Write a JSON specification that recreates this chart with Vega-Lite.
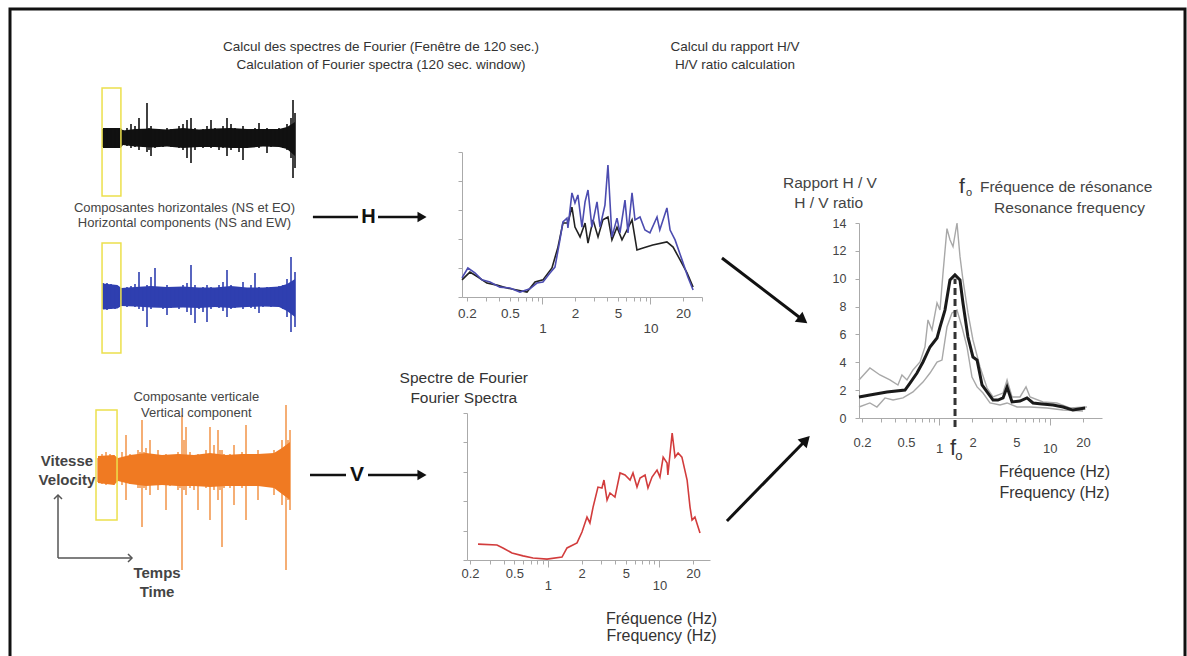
{
  "$schema": "https://vega.github.io/schema/vega-lite/v6.json",
  "width": 1175,
  "height": 660,
  "autosize": {"type": "none"},
  "padding": {"left": 10, "top": 9, "right": 2, "bottom": -13},
  "background": "#ffffff",
  "config": {
    "view": {"stroke": "#111111", "strokeWidth": 3},
    "font": "Liberation Sans",
    "axis": {"grid": false, "labelFont": "Liberation Sans", "labelColor": "#444444", "domainColor": "#aaaaaa", "tickColor": "#aaaaaa", "labelFlush": false, "labelOverlap": false, "tickSize": 4, "titleFont": "Liberation Sans"},
    "text": {"font": "Liberation Sans", "color": "#333333"}
  },
  "resolve": {
    "scale": {"x": "independent", "y": "independent", "color": "independent"},
    "axis": {"x": "independent", "y": "independent"}
  },
  "datasets": {
    "black": [
      {"t":0,"hi":0.9,"lo":-0.9},{"t":25,"hi":1.0,"lo":-1.0},{"t":50,"hi":0.9,"lo":-0.9},{"t":75,"hi":1.0,"lo":-1.0},{"t":100,"hi":0.9,"lo":-0.9},
      {"t":125,"hi":0.8,"lo":-0.7},{"t":150,"hi":1.0,"lo":-0.8},{"t":175,"hi":1.4,"lo":-1.0},{"t":200,"hi":1.2,"lo":-0.9},{"t":225,"hi":2.0,"lo":-1.2},
      {"t":250,"hi":0.9,"lo":-0.8},{"t":262.5,"hi":0.9,"lo":-0.9},{"t":275,"hi":3.5,"lo":-1.4},{"t":287.5,"hi":1.0,"lo":-1.2},{"t":300,"hi":1.2,"lo":-1.8},
      {"t":325,"hi":0.8,"lo":-1.0},{"t":350,"hi":0.9,"lo":-0.8},{"t":375,"hi":0.8,"lo":-0.9},{"t":400,"hi":1.0,"lo":-0.8},{"t":425,"hi":0.9,"lo":-0.9},
      {"t":450,"hi":0.8,"lo":-0.8},{"t":475,"hi":1.2,"lo":-1.0},{"t":500,"hi":1.4,"lo":-1.2},{"t":525,"hi":1.8,"lo":-2.0},{"t":550,"hi":2.0,"lo":-2.5},
      {"t":575,"hi":1.0,"lo":-1.2},{"t":600,"hi":0.8,"lo":-0.9},{"t":625,"hi":0.9,"lo":-1.0},{"t":650,"hi":1.2,"lo":-0.8},{"t":675,"hi":1.8,"lo":-1.0},
      {"t":700,"hi":1.0,"lo":-0.9},{"t":725,"hi":0.9,"lo":-1.2},{"t":750,"hi":1.2,"lo":-1.0},{"t":775,"hi":2.0,"lo":-1.8},{"t":800,"hi":1.4,"lo":-1.2},
      {"t":825,"hi":1.0,"lo":-1.0},{"t":850,"hi":0.9,"lo":-1.4},{"t":875,"hi":1.2,"lo":-2.2},{"t":900,"hi":0.9,"lo":-1.0},{"t":925,"hi":0.8,"lo":-0.9},
      {"t":950,"hi":1.0,"lo":-0.9},{"t":975,"hi":1.5,"lo":-1.0},{"t":1000,"hi":0.9,"lo":-0.8},{"t":1025,"hi":1.0,"lo":-1.5},{"t":1050,"hi":0.8,"lo":-0.9},
      {"t":1075,"hi":0.9,"lo":-0.8},{"t":1100,"hi":1.0,"lo":-0.9},{"t":1125,"hi":0.9,"lo":-1.0},{"t":1150,"hi":1.4,"lo":-1.2},{"t":1175,"hi":2.0,"lo":-2.0},
      {"t":1187.5,"hi":3.8,"lo":-4.0},{"t":1200,"hi":2.5,"lo":-3.0}
    ],
    "blackBand": [
      {"t":0,"hi":1.0,"lo":-1.0},{"t":110,"hi":1.0,"lo":-1.0},{"t":125,"hi":0.75,"lo":-0.7},{"t":200,"hi":0.9,"lo":-0.85},{"t":300,"hi":0.95,"lo":-0.95},
      {"t":400,"hi":0.85,"lo":-0.85},{"t":500,"hi":1.0,"lo":-1.0},{"t":600,"hi":0.85,"lo":-0.9},{"t":700,"hi":0.95,"lo":-0.9},{"t":800,"hi":1.0,"lo":-1.0},
      {"t":900,"hi":0.9,"lo":-1.0},{"t":1000,"hi":0.9,"lo":-0.85},{"t":1100,"hi":0.9,"lo":-0.9},{"t":1150,"hi":1.1,"lo":-1.1},{"t":1200,"hi":1.6,"lo":-1.8}
    ],
    "blue": [
      {"t":0,"hi":1.4,"lo":-1.2},{"t":25,"hi":1.4,"lo":-1.3},{"t":50,"hi":1.3,"lo":-1.2},{"t":75,"hi":1.2,"lo":-1.2},{"t":100,"hi":0.9,"lo":-1.0},
      {"t":125,"hi":0.9,"lo":-0.8},{"t":150,"hi":1.0,"lo":-1.0},{"t":175,"hi":1.1,"lo":-0.9},{"t":200,"hi":1.3,"lo":-1.0},{"t":225,"hi":2.5,"lo":-1.2},
      {"t":250,"hi":1.0,"lo":-1.4},{"t":275,"hi":1.2,"lo":-3.0},{"t":300,"hi":2.0,"lo":-1.2},{"t":325,"hi":2.9,"lo":-1.0},{"t":350,"hi":1.0,"lo":-1.0},
      {"t":375,"hi":0.9,"lo":-1.2},{"t":400,"hi":1.2,"lo":-1.8},{"t":425,"hi":1.0,"lo":-1.1},{"t":450,"hi":0.9,"lo":-1.0},{"t":475,"hi":1.0,"lo":-1.2},
      {"t":500,"hi":1.2,"lo":-1.0},{"t":525,"hi":1.4,"lo":-1.5},{"t":550,"hi":3.2,"lo":-1.8},{"t":575,"hi":1.2,"lo":-2.6},{"t":600,"hi":0.9,"lo":-1.2},
      {"t":625,"hi":1.0,"lo":-1.5},{"t":650,"hi":1.2,"lo":-2.5},{"t":675,"hi":1.0,"lo":-1.2},{"t":700,"hi":0.9,"lo":-1.0},{"t":725,"hi":1.2,"lo":-1.1},
      {"t":750,"hi":1.5,"lo":-1.4},{"t":775,"hi":2.7,"lo":-2.0},{"t":800,"hi":1.2,"lo":-1.2},{"t":825,"hi":0.9,"lo":-1.1},{"t":850,"hi":1.0,"lo":-1.0},
      {"t":875,"hi":1.5,"lo":-1.2},{"t":900,"hi":0.9,"lo":-1.0},{"t":925,"hi":1.2,"lo":-1.1},{"t":950,"hi":2.4,"lo":-1.2},{"t":975,"hi":1.0,"lo":-1.6},
      {"t":1000,"hi":0.9,"lo":-1.0},{"t":1025,"hi":1.0,"lo":-0.9},{"t":1050,"hi":0.9,"lo":-1.0},{"t":1075,"hi":1.0,"lo":-0.9},{"t":1100,"hi":1.1,"lo":-1.0},
      {"t":1125,"hi":1.2,"lo":-1.2},{"t":1150,"hi":1.8,"lo":-2.0},{"t":1175,"hi":4.0,"lo":-3.5},{"t":1200,"hi":2.5,"lo":-3.0}
    ],
    "blueBand": [
      {"t":0,"hi":1.35,"lo":-1.25},{"t":90,"hi":1.2,"lo":-1.15},{"t":115,"hi":0.9,"lo":-0.9},{"t":200,"hi":1.0,"lo":-0.95},{"t":300,"hi":1.1,"lo":-1.05},
      {"t":400,"hi":1.0,"lo":-1.1},{"t":500,"hi":1.05,"lo":-1.05},{"t":600,"hi":0.95,"lo":-1.1},{"t":700,"hi":0.95,"lo":-1.0},{"t":800,"hi":1.1,"lo":-1.1},
      {"t":900,"hi":0.95,"lo":-1.0},{"t":1000,"hi":0.95,"lo":-0.95},{"t":1100,"hi":1.05,"lo":-1.0},{"t":1150,"hi":1.3,"lo":-1.4},{"t":1200,"hi":1.8,"lo":-2.0}
    ],
    "orange": [
      {"t":0,"hi":1.2,"lo":-1.2},{"t":25,"hi":1.6,"lo":-1.4},{"t":50,"hi":1.8,"lo":-1.5},{"t":75,"hi":1.6,"lo":-1.4},{"t":100,"hi":1.5,"lo":-1.5},
      {"t":125,"hi":1.2,"lo":-1.0},{"t":150,"hi":1.8,"lo":-1.5},{"t":175,"hi":3.5,"lo":-3.0},{"t":200,"hi":1.6,"lo":-1.4},{"t":225,"hi":1.5,"lo":-1.4},
      {"t":250,"hi":2.0,"lo":-1.8},{"t":262.5,"hi":1.8,"lo":-1.8},{"t":275,"hi":5.0,"lo":-5.7},{"t":287.5,"hi":1.8,"lo":-1.8},{"t":300,"hi":2.2,"lo":-2.0},
      {"t":325,"hi":3.0,"lo":-2.5},{"t":350,"hi":1.5,"lo":-1.4},{"t":375,"hi":2.0,"lo":-2.0},{"t":400,"hi":1.4,"lo":-1.5},{"t":425,"hi":1.6,"lo":-4.0},
      {"t":450,"hi":1.5,"lo":-1.6},{"t":475,"hi":1.4,"lo":-1.5},{"t":500,"hi":1.8,"lo":-2.0},{"t":512.5,"hi":1.6,"lo":-1.8},{"t":525,"hi":5.5,"lo":-10.0},
      {"t":537.5,"hi":3.0,"lo":-2.0},{"t":550,"hi":4.3,"lo":-2.5},{"t":575,"hi":1.8,"lo":-1.8},{"t":600,"hi":1.5,"lo":-2.0},{"t":625,"hi":1.6,"lo":-4.0},
      {"t":650,"hi":1.5,"lo":-1.5},{"t":675,"hi":2.0,"lo":-1.8},{"t":700,"hi":4.3,"lo":-5.0},{"t":725,"hi":2.5,"lo":-2.0},{"t":750,"hi":4.0,"lo":-3.0},
      {"t":762.5,"hi":2.0,"lo":-2.0},{"t":775,"hi":2.0,"lo":-7.7},{"t":787.5,"hi":1.6,"lo":-1.8},{"t":800,"hi":1.5,"lo":-1.6},{"t":825,"hi":1.6,"lo":-1.8},
      {"t":850,"hi":2.5,"lo":-3.5},{"t":875,"hi":1.5,"lo":-1.6},{"t":900,"hi":1.8,"lo":-1.8},{"t":925,"hi":4.5,"lo":-5.0},{"t":950,"hi":1.6,"lo":-1.5},
      {"t":975,"hi":1.5,"lo":-1.6},{"t":1000,"hi":2.0,"lo":-3.0},{"t":1025,"hi":1.4,"lo":-1.5},{"t":1050,"hi":1.5,"lo":-1.4},{"t":1075,"hi":1.6,"lo":-1.6},
      {"t":1100,"hi":2.0,"lo":-2.5},{"t":1125,"hi":1.8,"lo":-2.0},{"t":1150,"hi":3.0,"lo":-3.5},{"t":1162.5,"hi":2.0,"lo":-2.5},{"t":1175,"hi":6.5,"lo":-10.0},
      {"t":1187.5,"hi":3.0,"lo":-3.0},{"t":1200,"hi":4.0,"lo":-4.0}
    ],
    "orangeBand": [
      {"t":0,"hi":1.4,"lo":-1.3},{"t":100,"hi":1.5,"lo":-1.5},{"t":125,"hi":1.2,"lo":-1.1},{"t":200,"hi":1.5,"lo":-1.4},{"t":300,"hi":1.7,"lo":-1.6},
      {"t":400,"hi":1.5,"lo":-1.5},{"t":500,"hi":1.6,"lo":-1.6},{"t":600,"hi":1.5,"lo":-1.6},{"t":700,"hi":1.7,"lo":-1.7},{"t":800,"hi":1.5,"lo":-1.6},
      {"t":900,"hi":1.6,"lo":-1.6},{"t":1000,"hi":1.6,"lo":-1.6},{"t":1100,"hi":1.7,"lo":-1.8},{"t":1150,"hi":2.2,"lo":-2.4},{"t":1200,"hi":2.8,"lo":-3.0}
    ],
    "hspec": [
      {"freq":0.18,"amp":0.59,"comp":"NS"},{"freq":0.213,"amp":0.86,"comp":"NS"},{"freq":0.253,"amp":0.69,"comp":"NS"},{"freq":0.306,"amp":0.48,"comp":"NS"},
      {"freq":0.379,"amp":0.41,"comp":"NS"},{"freq":0.469,"amp":0.31,"comp":"NS"},{"freq":0.581,"amp":0.24,"comp":"NS"},{"freq":0.719,"amp":0.17,"comp":"NS"},
      {"freq":0.853,"amp":0.52,"comp":"NS"},{"freq":1.011,"amp":0.59,"comp":"NS"},{"freq":1.225,"amp":1.0,"comp":"NS"},{"freq":1.392,"amp":1.72,"comp":"NS"},
      {"freq":1.548,"amp":2.55,"comp":"NS"},{"freq":1.722,"amp":2.55,"comp":"NS"},{"freq":1.875,"amp":3.10,"comp":"NS"},{"freq":2.0,"amp":2.41,"comp":"NS"},
      {"freq":2.23,"amp":2.07,"comp":"NS"},{"freq":2.48,"amp":2.55,"comp":"NS"},{"freq":2.64,"amp":1.86,"comp":"NS"},{"freq":2.94,"amp":2.66,"comp":"NS"},
      {"freq":3.27,"amp":2.07,"comp":"NS"},{"freq":3.63,"amp":2.66,"comp":"NS"},{"freq":4.04,"amp":2.76,"comp":"NS"},{"freq":4.40,"amp":1.97,"comp":"NS"},
      {"freq":4.90,"amp":2.41,"comp":"NS"},{"freq":5.45,"amp":1.97,"comp":"NS"},{"freq":6.06,"amp":2.31,"comp":"NS"},{"freq":6.75,"amp":2.66,"comp":"NS"},
      {"freq":7.50,"amp":1.62,"comp":"NS"},{"freq":8.53,"amp":1.69,"comp":"NS"},{"freq":10.5,"amp":1.79,"comp":"NS"},{"freq":14.2,"amp":1.90,"comp":"NS"},
      {"freq":16.2,"amp":1.72,"comp":"NS"},{"freq":18.8,"amp":1.28,"comp":"NS"},{"freq":21.8,"amp":0.83,"comp":"NS"},{"freq":24.8,"amp":0.34,"comp":"NS"},
      {"freq":0.18,"amp":0.66,"comp":"EW"},{"freq":0.204,"amp":1.0,"comp":"EW"},{"freq":0.237,"amp":0.83,"comp":"EW"},{"freq":0.275,"amp":0.59,"comp":"EW"},
      {"freq":0.327,"amp":0.52,"comp":"EW"},{"freq":0.404,"amp":0.34,"comp":"EW"},{"freq":0.50,"amp":0.31,"comp":"EW"},{"freq":0.619,"amp":0.17,"comp":"EW"},
      {"freq":0.766,"amp":0.28,"comp":"EW"},{"freq":0.889,"amp":0.48,"comp":"EW"},{"freq":1.011,"amp":0.52,"comp":"EW"},{"freq":1.174,"amp":0.83,"comp":"EW"},
      {"freq":1.306,"amp":1.03,"comp":"EW"},{"freq":1.452,"amp":1.97,"comp":"EW"},{"freq":1.548,"amp":2.59,"comp":"EW"},{"freq":1.687,"amp":2.72,"comp":"EW"},
      {"freq":1.722,"amp":2.38,"comp":"EW"},{"freq":1.875,"amp":3.59,"comp":"EW"},{"freq":2.0,"amp":3.24,"comp":"EW"},{"freq":2.13,"amp":3.52,"comp":"EW"},
      {"freq":2.32,"amp":2.41,"comp":"EW"},{"freq":2.48,"amp":3.28,"comp":"EW"},{"freq":2.64,"amp":3.69,"comp":"EW"},{"freq":2.87,"amp":2.41,"comp":"EW"},
      {"freq":3.20,"amp":3.28,"comp":"EW"},{"freq":3.41,"amp":2.41,"comp":"EW"},{"freq":3.79,"amp":3.17,"comp":"EW"},{"freq":4.04,"amp":4.55,"comp":"EW"},
      {"freq":4.40,"amp":2.07,"comp":"EW"},{"freq":4.90,"amp":2.72,"comp":"EW"},{"freq":5.22,"amp":2.21,"comp":"EW"},{"freq":5.81,"amp":3.34,"comp":"EW"},
      {"freq":6.19,"amp":2.21,"comp":"EW"},{"freq":6.75,"amp":3.59,"comp":"EW"},{"freq":7.19,"amp":2.66,"comp":"EW"},{"freq":8.00,"amp":2.76,"comp":"EW"},
      {"freq":8.89,"amp":2.31,"comp":"EW"},{"freq":9.89,"amp":2.21,"comp":"EW"},{"freq":11.5,"amp":2.76,"comp":"EW"},{"freq":12.2,"amp":2.31,"comp":"EW"},
      {"freq":14.2,"amp":3.07,"comp":"EW"},{"freq":15.2,"amp":2.31,"comp":"EW"},{"freq":16.9,"amp":1.97,"comp":"EW"},{"freq":19.6,"amp":1.28,"comp":"EW"},
      {"freq":22.2,"amp":0.69,"comp":"EW"},{"freq":24.8,"amp":0.24,"comp":"EW"}
    ],
    "vspec": [
      {"freq":0.236,"amp":0.54},{"freq":0.349,"amp":0.51},{"freq":0.395,"amp":0.41},{"freq":0.476,"amp":0.24},{"freq":0.598,"amp":0.14},
      {"freq":0.735,"amp":0.07},{"freq":0.981,"amp":0.03},{"freq":1.337,"amp":0.10},{"freq":1.483,"amp":0.41},{"freq":1.823,"amp":0.58},
      {"freq":2.02,"amp":0.95},{"freq":2.24,"amp":1.46},{"freq":2.38,"amp":1.26},{"freq":2.54,"amp":1.80},{"freq":2.81,"amp":2.48},
      {"freq":3.05,"amp":2.45},{"freq":3.18,"amp":2.72},{"freq":3.39,"amp":2.04},{"freq":3.60,"amp":2.28},{"freq":3.99,"amp":2.14},
      {"freq":4.43,"amp":2.96},{"freq":4.91,"amp":2.89},{"freq":5.45,"amp":2.72},{"freq":5.79,"amp":2.96},{"freq":6.29,"amp":2.48},
      {"freq":6.70,"amp":2.79},{"freq":7.43,"amp":2.89},{"freq":7.89,"amp":2.45},{"freq":8.58,"amp":2.82},{"freq":9.51,"amp":3.06},
      {"freq":10.1,"amp":2.82},{"freq":10.8,"amp":3.50},{"freq":11.7,"amp":3.30},{"freq":11.9,"amp":2.89},{"freq":13.0,"amp":4.32},
      {"freq":13.8,"amp":3.50},{"freq":14.7,"amp":3.64},{"freq":15.9,"amp":3.50},{"freq":17.7,"amp":2.72},{"freq":18.8,"amp":1.80},
      {"freq":19.6,"amp":1.36},{"freq":20.8,"amp":1.46},{"freq":23.1,"amp":0.92}
    ],
    "hv": [
      {"freq":0.188,"hv":1.51,"curve":"mean"},{"freq":0.236,"hv":1.65,"curve":"mean"},{"freq":0.337,"hv":1.87,"curve":"mean"},{"freq":0.49,"hv":2.01,"curve":"mean"},
      {"freq":0.544,"hv":2.51,"curve":"mean"},{"freq":0.629,"hv":3.23,"curve":"mean"},{"freq":0.713,"hv":4.02,"curve":"mean"},{"freq":0.825,"hv":5.10,"curve":"mean"},
      {"freq":0.955,"hv":5.74,"curve":"mean"},{"freq":1.016,"hv":6.53,"curve":"mean"},{"freq":1.127,"hv":7.75,"curve":"mean"},{"freq":1.251,"hv":9.91,"curve":"mean"},
      {"freq":1.388,"hv":10.27,"curve":"mean"},{"freq":1.541,"hv":9.91,"curve":"mean"},{"freq":1.64,"hv":8.26,"curve":"mean"},{"freq":1.82,"hv":5.81,"curve":"mean"},
      {"freq":2.02,"hv":4.38,"curve":"mean"},{"freq":2.20,"hv":4.16,"curve":"mean"},{"freq":2.44,"hv":2.37,"curve":"mean"},{"freq":2.71,"hv":1.87,"curve":"mean"},
      {"freq":3.07,"hv":1.29,"curve":"mean"},{"freq":3.40,"hv":1.29,"curve":"mean"},{"freq":3.78,"hv":1.44,"curve":"mean"},{"freq":4.11,"hv":2.23,"curve":"mean"},
      {"freq":4.56,"hv":1.15,"curve":"mean"},{"freq":5.38,"hv":1.22,"curve":"mean"},{"freq":6.22,"hv":1.44,"curve":"mean"},{"freq":7.06,"hv":1.08,"curve":"mean"},
      {"freq":8.51,"hv":1.01,"curve":"mean"},{"freq":10.7,"hv":0.93,"curve":"mean"},{"freq":13.2,"hv":0.79,"curve":"mean"},{"freq":16.2,"hv":0.57,"curve":"mean"},
      {"freq":20.9,"hv":0.72,"curve":"mean"},
      {"freq":0.188,"hv":2.73,"curve":"plus"},{"freq":0.236,"hv":3.59,"curve":"plus"},{"freq":0.291,"hv":3.09,"curve":"plus"},{"freq":0.358,"hv":2.73,"curve":"plus"},
      {"freq":0.423,"hv":2.37,"curve":"plus"},{"freq":0.460,"hv":3.09,"curve":"plus"},{"freq":0.511,"hv":2.73,"curve":"plus"},{"freq":0.579,"hv":3.45,"curve":"plus"},
      {"freq":0.670,"hv":4.02,"curve":"plus"},{"freq":0.743,"hv":5.10,"curve":"plus"},{"freq":0.791,"hv":7.04,"curve":"plus"},{"freq":0.860,"hv":6.32,"curve":"plus"},
      {"freq":0.955,"hv":8.26,"curve":"plus"},{"freq":1.016,"hv":7.75,"curve":"plus"},{"freq":1.082,"hv":10.4,"curve":"plus"},{"freq":1.175,"hv":13.6,"curve":"plus"},
      {"freq":1.251,"hv":12.8,"curve":"plus"},{"freq":1.333,"hv":12.3,"curve":"plus"},{"freq":1.448,"hv":14.0,"curve":"plus"},{"freq":1.541,"hv":11.6,"curve":"plus"},
      {"freq":1.64,"hv":9.91,"curve":"plus"},{"freq":1.82,"hv":7.54,"curve":"plus"},{"freq":2.02,"hv":5.60,"curve":"plus"},{"freq":2.34,"hv":3.66,"curve":"plus"},
      {"freq":2.71,"hv":2.15,"curve":"plus"},{"freq":3.07,"hv":1.51,"curve":"plus"},{"freq":3.78,"hv":1.79,"curve":"plus"},{"freq":4.11,"hv":2.73,"curve":"plus"},
      {"freq":4.56,"hv":1.51,"curve":"plus"},{"freq":5.38,"hv":1.51,"curve":"plus"},{"freq":6.10,"hv":2.23,"curve":"plus"},{"freq":6.63,"hv":1.51,"curve":"plus"},
      {"freq":8.69,"hv":1.15,"curve":"plus"},{"freq":11.6,"hv":1.08,"curve":"plus"},{"freq":15.2,"hv":0.72,"curve":"plus"},{"freq":21.7,"hv":0.79,"curve":"plus"},
      {"freq":0.188,"hv":0.79,"curve":"minus"},{"freq":0.236,"hv":1.08,"curve":"minus"},{"freq":0.273,"hv":0.79,"curve":"minus"},{"freq":0.323,"hv":1.44,"curve":"minus"},
      {"freq":0.382,"hv":1.29,"curve":"minus"},{"freq":0.470,"hv":1.44,"curve":"minus"},{"freq":0.579,"hv":1.87,"curve":"minus"},{"freq":0.713,"hv":2.58,"curve":"minus"},
      {"freq":0.825,"hv":3.23,"curve":"minus"},{"freq":0.955,"hv":4.02,"curve":"minus"},{"freq":1.059,"hv":4.16,"curve":"minus"},{"freq":1.175,"hv":6.53,"curve":"minus"},
      {"freq":1.304,"hv":7.54,"curve":"minus"},{"freq":1.448,"hv":7.75,"curve":"minus"},{"freq":1.607,"hv":6.53,"curve":"minus"},{"freq":1.784,"hv":5.10,"curve":"minus"},
      {"freq":1.979,"hv":2.94,"curve":"minus"},{"freq":2.20,"hv":2.23,"curve":"minus"},{"freq":2.49,"hv":1.79,"curve":"minus"},{"freq":2.88,"hv":1.08,"curve":"minus"},
      {"freq":3.55,"hv":0.93,"curve":"minus"},{"freq":4.11,"hv":1.08,"curve":"minus"},{"freq":5.06,"hv":0.79,"curve":"minus"},{"freq":6.63,"hv":0.79,"curve":"minus"},
      {"freq":9.44,"hv":0.72,"curve":"minus"},{"freq":13.2,"hv":0.57,"curve":"minus"},{"freq":20.0,"hv":0.50,"curve":"minus"}
    ]
  },
  "layer": [
    {
      "layer": [
        {
          "data": {"name": "blackBand"},
          "mark": {"type": "area", "color": "#111111"},
          "encoding": {
            "x": {"field": "t", "type": "quantitative", "scale": {"domain": [0, 1200], "range": [93, 285], "zero": false, "nice": false}, "axis": null},
            "y": {"field": "hi", "type": "quantitative", "scale": {"domain": [-4, 4], "range": [169, 89], "zero": false, "nice": false}, "axis": null},
            "y2": {"field": "lo"}
          }
        },
        {
          "data": {"name": "black"},
          "mark": {"type": "rule", "color": "#111111", "strokeWidth": 1.6},
          "encoding": {
            "x": {"field": "t", "type": "quantitative", "axis": null},
            "y": {"field": "hi", "type": "quantitative", "axis": null},
            "y2": {"field": "lo"}
          }
        },
        {
          "data": {"values": [{"t0": -6, "t1": 112, "v0": -5.8, "v1": 5.0}]},
          "mark": {"type": "rect", "fill": "transparent", "stroke": "#ece04c", "strokeWidth": 1.5},
          "encoding": {
            "x": {"field": "t0", "type": "quantitative", "axis": null}, "x2": {"field": "t1"},
            "y": {"field": "v0", "type": "quantitative", "axis": null}, "y2": {"field": "v1"}
          }
        }
      ]
    },
    {
      "layer": [
        {
          "data": {"name": "blueBand"},
          "mark": {"type": "area", "color": "#2f3fb0"},
          "encoding": {
            "x": {"field": "t", "type": "quantitative", "scale": {"domain": [0, 1200], "range": [93, 285], "zero": false, "nice": false}, "axis": null},
            "y": {"field": "hi", "type": "quantitative", "scale": {"domain": [-4, 4], "range": [328, 248], "zero": false, "nice": false}, "axis": null},
            "y2": {"field": "lo"}
          }
        },
        {
          "data": {"name": "blue"},
          "mark": {"type": "rule", "color": "#2f3fb0", "strokeWidth": 1.6},
          "encoding": {
            "x": {"field": "t", "type": "quantitative", "axis": null},
            "y": {"field": "hi", "type": "quantitative", "axis": null},
            "y2": {"field": "lo"}
          }
        },
        {
          "data": {"values": [{"t0": -6, "t1": 112, "v0": -5.6, "v1": 5.4}]},
          "mark": {"type": "rect", "fill": "transparent", "stroke": "#ece04c", "strokeWidth": 1.5},
          "encoding": {
            "x": {"field": "t0", "type": "quantitative", "axis": null}, "x2": {"field": "t1"},
            "y": {"field": "v0", "type": "quantitative", "axis": null}, "y2": {"field": "v1"}
          }
        },
        {
          "data": {"values": [
            {"t": 509, "v": 8.87, "label": "Composantes horizontales (NS et EO)"},
            {"t": 509, "v": 7.37, "label": "Horizontal components (NS and EW)"}
          ]},
          "mark": {"type": "text", "fontSize": 13, "color": "#444444", "align": "center", "baseline": "middle"},
          "encoding": {
            "x": {"field": "t", "type": "quantitative", "axis": null},
            "y": {"field": "v", "type": "quantitative", "axis": null},
            "text": {"field": "label"}
          }
        },
        {
          "data": {"values": [{"t0": 1312, "t1": 1594, "v": 8.0}, {"t0": 1719, "t1": 1994, "v": 8.0}]},
          "mark": {"type": "rule", "color": "#111111", "strokeWidth": 2.5},
          "encoding": {
            "x": {"field": "t0", "type": "quantitative", "axis": null}, "x2": {"field": "t1"},
            "y": {"field": "v", "type": "quantitative", "axis": null}
          }
        },
        {
          "data": {"values": [{"t": 1994, "v": 8.0}]},
          "mark": {"type": "point", "shape": "triangle-right", "filled": true, "size": 110, "color": "#111111", "opacity": 1},
          "encoding": {
            "x": {"field": "t", "type": "quantitative", "axis": null},
            "y": {"field": "v", "type": "quantitative", "axis": null}
          }
        },
        {
          "data": {"values": [{"t": 1659, "v": 8.0, "label": "H"}]},
          "mark": {"type": "text", "fontSize": 20, "fontWeight": "bold", "color": "#111111", "align": "center", "baseline": "middle"},
          "encoding": {
            "x": {"field": "t", "type": "quantitative", "axis": null},
            "y": {"field": "v", "type": "quantitative", "axis": null},
            "text": {"field": "label"}
          }
        }
      ]
    },
    {
      "layer": [
        {
          "data": {"name": "orange"},
          "mark": {"type": "rule", "color": "#f39a52", "strokeWidth": 1.6},
          "encoding": {
            "x": {"field": "t", "type": "quantitative", "scale": {"domain": [0, 1200], "range": [88, 280], "zero": false, "nice": false}, "axis": null},
            "y": {"field": "hi", "type": "quantitative", "scale": {"domain": [-10, 10], "range": [561, 361], "zero": false, "nice": false}, "axis": null},
            "y2": {"field": "lo"}
          }
        },
        {
          "data": {"name": "orangeBand"},
          "mark": {"type": "area", "color": "#f07a22"},
          "encoding": {
            "x": {"field": "t", "type": "quantitative", "axis": null},
            "y": {"field": "hi", "type": "quantitative", "axis": null},
            "y2": {"field": "lo"}
          }
        },
        {
          "data": {"values": [{"t0": -12.5, "t1": 119, "v0": -5.0, "v1": 6.0}]},
          "mark": {"type": "rect", "fill": "transparent", "stroke": "#ece04c", "strokeWidth": 1.5},
          "encoding": {
            "x": {"field": "t0", "type": "quantitative", "axis": null}, "x2": {"field": "t1"},
            "y": {"field": "v0", "type": "quantitative", "axis": null}, "y2": {"field": "v1"}
          }
        },
        {
          "data": {"values": [
            {"t": 614, "v": 7.27, "label": "Composante verticale"},
            {"t": 614, "v": 5.73, "label": "Vertical component"}
          ]},
          "mark": {"type": "text", "fontSize": 13, "color": "#444444", "align": "center", "baseline": "middle"},
          "encoding": {
            "x": {"field": "t", "type": "quantitative", "axis": null},
            "y": {"field": "v", "type": "quantitative", "axis": null},
            "text": {"field": "label"}
          }
        },
        {
          "data": {"values": [
            {"t": -194, "v": 0.9, "label": "Vitesse"},
            {"t": -194, "v": -1.0, "label": "Velocity"},
            {"t": 369, "v": -10.3, "label": "Temps"},
            {"t": 369, "v": -12.2, "label": "Time"}
          ]},
          "mark": {"type": "text", "fontSize": 15, "fontWeight": "bold", "color": "#444444", "align": "center", "baseline": "middle"},
          "encoding": {
            "x": {"field": "t", "type": "quantitative", "axis": null},
            "y": {"field": "v", "type": "quantitative", "axis": null},
            "text": {"field": "label"}
          }
        },
        {
          "data": {"values": [
            {"t0": -250, "t1": -250, "v0": -8.8, "v1": -2.5},
            {"t0": -250, "t1": 212.5, "v0": -8.8, "v1": -8.8}
          ]},
          "mark": {"type": "rule", "color": "#555555", "strokeWidth": 1.5},
          "encoding": {
            "x": {"field": "t0", "type": "quantitative", "axis": null}, "x2": {"field": "t1"},
            "y": {"field": "v0", "type": "quantitative", "axis": null}, "y2": {"field": "v1"}
          }
        },
        {
          "data": {"values": [{"t": -250, "v": -2.5}]},
          "mark": {"type": "point", "shape": "M-1,1L0,0L1,1", "filled": false, "size": 64, "color": "#555555", "strokeWidth": 1.5, "opacity": 1},
          "encoding": {
            "x": {"field": "t", "type": "quantitative", "axis": null},
            "y": {"field": "v", "type": "quantitative", "axis": null}
          }
        },
        {
          "data": {"values": [{"t": 212.5, "v": -8.8}]},
          "mark": {"type": "point", "shape": "M-1,-1L0,0L-1,1", "filled": false, "size": 64, "color": "#555555", "strokeWidth": 1.5, "opacity": 1},
          "encoding": {
            "x": {"field": "t", "type": "quantitative", "axis": null},
            "y": {"field": "v", "type": "quantitative", "axis": null}
          }
        },
        {
          "data": {"values": [{"t0": 1325, "t1": 1550, "v": -0.5}, {"t0": 1687.5, "t1": 2025, "v": -0.5}]},
          "mark": {"type": "rule", "color": "#111111", "strokeWidth": 2.5},
          "encoding": {
            "x": {"field": "t0", "type": "quantitative", "axis": null}, "x2": {"field": "t1"},
            "y": {"field": "v", "type": "quantitative", "axis": null}
          }
        },
        {
          "data": {"values": [{"t": 2025, "v": -0.5}]},
          "mark": {"type": "point", "shape": "triangle-right", "filled": true, "size": 110, "color": "#111111", "opacity": 1},
          "encoding": {
            "x": {"field": "t", "type": "quantitative", "axis": null},
            "y": {"field": "v", "type": "quantitative", "axis": null}
          }
        },
        {
          "data": {"values": [{"t": 1619, "v": -0.5, "label": "V"}]},
          "mark": {"type": "text", "fontSize": 21, "fontWeight": "bold", "color": "#111111", "align": "center", "baseline": "middle"},
          "encoding": {
            "x": {"field": "t", "type": "quantitative", "axis": null},
            "y": {"field": "v", "type": "quantitative", "axis": null},
            "text": {"field": "label"}
          }
        }
      ]
    },
    {
      "layer": [
        {
          "data": {"name": "hspec"},
          "mark": {"type": "line", "strokeWidth": 1.6},
          "encoding": {
            "x": {
              "field": "freq", "type": "quantitative",
              "scale": {"type": "log", "domain": [0.18, 30], "range": [452, 692], "nice": false},
              "axis": {
                "orient": "bottom", "offset": -372, "title": null,
                "values": [0.2,0.3,0.4,0.5,0.6,0.7,0.8,0.9,1,2,3,4,5,6,7,8,9,10,20,30],
                "labelExpr": "indexof([0.2,0.5,1,2,5,10,20], datum.value) >= 0 ? format(datum.value, '~g') : ''",
                "labelBaseline": "middle", "labelFontSize": 13.5,
                "labelPadding": {"condition": {"test": "datum.value == 1 || datum.value == 10", "value": 24}, "value": 12.5},
                "tickSize": {"condition": {"test": "datum.value == 1 || datum.value == 10", "value": 7}, "value": 4}
              }
            },
            "y": {
              "field": "amp", "type": "quantitative",
              "scale": {"domain": [0, 5], "range": [288, 143], "zero": false, "nice": false},
              "axis": {"orient": "left", "offset": -452, "title": null, "values": [0,1,2,3,4,5], "labels": false, "tickSize": 4}
            },
            "color": {"field": "comp", "type": "nominal", "scale": {"domain": ["NS", "EW"], "range": ["#222222", "#4c4cb0"]}, "legend": null}
          }
        },
        {
          "data": {"values": [
            {"freq": 0.032, "amp": 8.63, "label": "Calcul des spectres  de Fourier (Fenêtre de 120 sec.)"},
            {"freq": 0.032, "amp": 7.99, "label": "Calculation of Fourier spectra (120 sec. window)"}
          ]},
          "mark": {"type": "text", "fontSize": 13.5, "color": "#333333", "align": "center", "baseline": "middle"},
          "encoding": {
            "x": {"field": "freq", "type": "quantitative"},
            "y": {"field": "amp", "type": "quantitative"},
            "text": {"field": "label"}
          }
        }
      ]
    },
    {
      "layer": [
        {
          "data": {"name": "vspec"},
          "mark": {"type": "line", "strokeWidth": 1.6, "color": "#d23c3c"},
          "encoding": {
            "x": {
              "field": "freq", "type": "quantitative",
              "scale": {"type": "log", "domain": [0.188, 28.4], "range": [457, 700], "nice": false},
              "axis": {
                "orient": "bottom", "offset": -109,
                "values": [0.2,0.3,0.4,0.5,0.6,0.7,0.8,0.9,1,2,3,4,5,6,7,8,9,10,20],
                "labelExpr": "indexof([0.2,0.5,1,2,5,10,20], datum.value) >= 0 ? format(datum.value, '~g') : ''",
                "labelBaseline": "middle", "labelFontSize": 13,
                "labelPadding": {"condition": {"test": "datum.value == 1 || datum.value == 10", "value": 18}, "value": 9},
                "tickSize": {"condition": {"test": "datum.value == 1 || datum.value == 10", "value": 7}, "value": 4},
                "title": ["Fréquence (Hz)", "Frequency (Hz)"],
                "titleX": 651, "titleY": 50, "titleAlign": "center", "titleAnchor": null, "titleBaseline": "top",
                "titleFontSize": 16, "titleFontWeight": "normal", "titleColor": "#333333", "titleLineHeight": 17
              }
            },
            "y": {
              "field": "amp", "type": "quantitative",
              "scale": {"domain": [0, 5], "range": [551, 404], "zero": false, "nice": false},
              "axis": {"orient": "left", "offset": -457, "title": null, "values": [0,1,2,3,4,5], "labels": false, "tickSize": 4}
            }
          }
        },
        {
          "data": {"values": [
            {"freq": 0.176, "amp": 6.18, "label": "Spectre de Fourier"},
            {"freq": 0.176, "amp": 5.50, "label": "Fourier Spectra"}
          ]},
          "mark": {"type": "text", "fontSize": 15.5, "color": "#333333", "align": "center", "baseline": "middle"},
          "encoding": {
            "x": {"field": "freq", "type": "quantitative"},
            "y": {"field": "amp", "type": "quantitative"},
            "text": {"field": "label"}
          }
        }
      ]
    },
    {
      "layer": [
        {
          "data": {"name": "hv"},
          "transform": [{"filter": "datum.curve != 'mean'"}],
          "mark": {"type": "line", "strokeWidth": 1.4, "color": "#a8a8a8"},
          "encoding": {
            "x": {
              "field": "freq", "type": "quantitative",
              "scale": {"type": "log", "domain": [0.188, 29.7], "range": [849, 1092], "nice": false},
              "axis": {
                "orient": "bottom", "offset": -251,
                "values": [0.2,0.3,0.4,0.5,0.6,0.7,0.8,0.9,1,2,3,4,5,6,7,8,9,10,20],
                "labelExpr": "indexof([0.2,0.5,1,2,5,10,20], datum.value) >= 0 ? format(datum.value, '~g') : ''",
                "labelBaseline": "middle", "labelFontSize": 13,
                "labelPadding": {"condition": {"test": "datum.value == 1 || datum.value == 10", "value": 23}, "value": 20},
                "tickSize": {"condition": {"test": "datum.value == 1 || datum.value == 10", "value": 7}, "value": 4},
                "title": ["Fréquence (Hz)", "Frequency (Hz)"],
                "titleX": 1044, "titleY": 45, "titleAlign": "center", "titleAnchor": null, "titleBaseline": "top",
                "titleFontSize": 16, "titleFontWeight": "normal", "titleColor": "#333333", "titleLineHeight": 21
              }
            },
            "y": {
              "field": "hv", "type": "quantitative",
              "scale": {"domain": [0, 14], "range": [409, 214], "zero": false, "nice": false},
              "axis": {"orient": "left", "offset": -849, "title": null, "values": [0,2,4,6,8,10,12,14], "labelFontSize": 12.5, "labelPadding": 9, "tickSize": 4}
            },
            "detail": {"field": "curve", "type": "nominal"}
          }
        },
        {
          "data": {"name": "hv"},
          "transform": [{"filter": "datum.curve == 'mean'"}],
          "mark": {"type": "line", "strokeWidth": 3, "color": "#1a1a1a"},
          "encoding": {
            "x": {"field": "freq", "type": "quantitative"},
            "y": {"field": "hv", "type": "quantitative"}
          }
        },
        {
          "data": {"values": [{"freq": 1.39, "v0": -0.65, "v1": 10.0}]},
          "mark": {"type": "rule", "color": "#333333", "strokeWidth": 3, "strokeDash": [7, 4]},
          "encoding": {
            "x": {"field": "freq", "type": "quantitative"},
            "y": {"field": "v0", "type": "quantitative"}, "y2": {"field": "v1"}
          }
        },
        {
          "data": {"values": [
            {"f0": 0.01082, "f1": 0.05848, "v0": 11.49, "v1": 7.035},
            {"f0": 0.0120, "f1": 0.06226, "v0": -7.39, "v1": -1.58}
          ]},
          "mark": {"type": "rule", "color": "#111111", "strokeWidth": 3},
          "encoding": {
            "x": {"field": "f0", "type": "quantitative"}, "x2": {"field": "f1"},
            "y": {"field": "v0", "type": "quantitative"}, "y2": {"field": "v1"}
          }
        },
        {
          "data": {"values": [{"freq": 0.05848, "hv": 7.035}]},
          "mark": {"type": "point", "shape": "triangle-right", "filled": true, "size": 160, "angle": 37.4, "color": "#111111", "opacity": 1},
          "encoding": {
            "x": {"field": "freq", "type": "quantitative"},
            "y": {"field": "hv", "type": "quantitative"}
          }
        },
        {
          "data": {"values": [{"freq": 0.06226, "hv": -1.58}]},
          "mark": {"type": "point", "shape": "triangle-right", "filled": true, "size": 160, "angle": 314.3, "color": "#111111", "opacity": 1},
          "encoding": {
            "x": {"field": "freq", "type": "quantitative"},
            "y": {"field": "hv", "type": "quantitative"}
          }
        },
        {
          "data": {"values": [
            {"freq": 0.01418, "hv": 26.65, "label": "Calcul du rapport H/V"},
            {"freq": 0.01418, "hv": 25.34, "label": "H/V ratio calculation"}
          ]},
          "mark": {"type": "text", "fontSize": 13.5, "color": "#333333", "align": "center", "baseline": "middle"},
          "encoding": {
            "x": {"field": "freq", "type": "quantitative"},
            "y": {"field": "hv", "type": "quantitative"},
            "text": {"field": "label"}
          }
        },
        {
          "data": {"values": [
            {"freq": 0.1027, "hv": 16.85, "label": "Rapport  H / V"},
            {"freq": 0.0999, "hv": 15.45, "label": "H / V  ratio"},
            {"freq": 15.09, "hv": 15.05, "label": "Resonance frequency"}
          ]},
          "mark": {"type": "text", "fontSize": 15.5, "color": "#444444", "align": "center", "baseline": "middle"},
          "encoding": {
            "x": {"field": "freq", "type": "quantitative"},
            "y": {"field": "hv", "type": "quantitative"},
            "text": {"field": "label"}
          }
        },
        {
          "data": {"values": [{"freq": 2.338, "hv": 16.6, "label": "Fréquence de résonance"}]},
          "mark": {"type": "text", "fontSize": 15.5, "color": "#444444", "align": "left", "baseline": "middle"},
          "encoding": {
            "x": {"field": "freq", "type": "quantitative"},
            "y": {"field": "hv", "type": "quantitative"},
            "text": {"field": "label"}
          }
        },
        {
          "data": {"values": [{"freq": 1.607, "hv": 16.58, "label": "f"}]},
          "mark": {"type": "text", "fontSize": 21, "color": "#333333", "align": "center", "baseline": "middle"},
          "encoding": {
            "x": {"field": "freq", "type": "quantitative"},
            "y": {"field": "hv", "type": "quantitative"},
            "text": {"field": "label"}
          }
        },
        {
          "data": {"values": [{"freq": 1.858, "hv": 16.15, "label": "o"}]},
          "mark": {"type": "text", "fontSize": 11, "color": "#333333", "align": "center", "baseline": "middle"},
          "encoding": {
            "x": {"field": "freq", "type": "quantitative"},
            "y": {"field": "hv", "type": "quantitative"},
            "text": {"field": "label"}
          }
        },
        {
          "data": {"values": [{"freq": 1.332, "hv": -2.15, "label": "f"}]},
          "mark": {"type": "text", "fontSize": 22, "color": "#333333", "align": "center", "baseline": "middle"},
          "encoding": {
            "x": {"field": "freq", "type": "quantitative"},
            "y": {"field": "hv", "type": "quantitative"},
            "text": {"field": "label"}
          }
        },
        {
          "data": {"values": [{"freq": 1.509, "hv": -2.73, "label": "o"}]},
          "mark": {"type": "text", "fontSize": 13, "color": "#333333", "align": "center", "baseline": "middle"},
          "encoding": {
            "x": {"field": "freq", "type": "quantitative"},
            "y": {"field": "hv", "type": "quantitative"},
            "text": {"field": "label"}
          }
        }
      ]
    }
  ]
}
